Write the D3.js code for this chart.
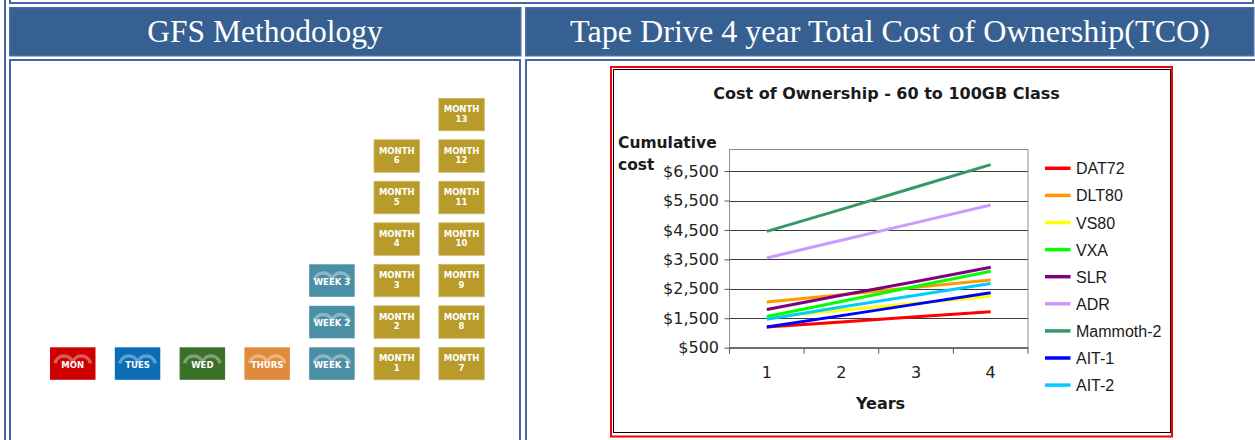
<!DOCTYPE html>
<html>

<head>
    <meta charset="utf-8">
    <script src="https://d3js.org/d3.v7.min.js"></script>
    <style>
        body {
            margin: 0;
            background: #ffffff;
            overflow: hidden;
        }

        .cell-border {
            fill: none;
            stroke: #4465a8;
            stroke-width: 2;
        }

        .header {
            fill: #366092;
            stroke: #4a6ba8;
            stroke-width: 1.5;
        }

        .header-text {
            font-family: "Liberation Serif", "Times New Roman", serif;
            font-size: 31.5px;
            fill: #ffffff;
            text-anchor: middle;
        }

        .tile-text {
            font-family: "DejaVu Sans", sans-serif;
            font-weight: bold;
            font-size: 8.5px;
            fill: #ffffff;
            text-anchor: middle;
        }

        .chart-text {
            font-family: "DejaVu Sans", sans-serif;
            fill: #1a1a1a;
        }

        .legend-text {
            font-family: "Liberation Sans", Arial, sans-serif;
            font-size: 16px;
            fill: #1a1a1a;
        }

        .axis text {
            font-family: "DejaVu Sans", sans-serif;
            font-size: 16px;
            fill: #222222;
        }

        .axis .domain {
            display: none;
        }

        .axis line {
            stroke: #555555;
        }
    </style>
</head>

<body>
    <div id="page"></div>
    <script>
        // ---- left panel: GFS rotation tiles ----
        var dayTiles = ["MON", "TUES", "WED", "THURS"];
        var weekTiles = ["WEEK 1", "WEEK 2", "WEEK 3"];
        var monthTiles = [1, 2, 3, 4, 5, 6, 7, 8, 9, 10, 11, 12, 13];
        var tileColumns = ["MON", "TUES", "WED", "THURS", "WEEK", "MONTH-A", "MONTH-B"];

        // ---- right panel: cost of ownership ----
        var years = [1, 2, 3, 4];
        var seriesNames = ["DAT72", "DLT80", "VS80", "VXA", "SLR", "ADR", "Mammoth-2", "AIT-1", "AIT-2"];
        var dat72 = [1200, 1370, 1550, 1720];
        var dlt80 = [2050, 2300, 2550, 2800];
        var vs80 = [1530, 1770, 2010, 2250];
        var vxa = [1560, 2070, 2590, 3100];
        var slr = [1800, 2280, 2750, 3230];
        var adr = [3550, 4150, 4750, 5350];
        var mammoth2 = [4450, 5200, 5960, 6720];
        var ait1 = [1200, 1590, 1980, 2370];
        var ait2 = [1470, 1880, 2280, 2680];
        var yTicks = [500, 1500, 2500, 3500, 4500, 5500, 6500];

        var seriesValues = [dat72, dlt80, vs80, vxa, slr, adr, mammoth2, ait1, ait2];
        var seriesColors = ["#ff0000", "#ff9900", "#ffff00", "#00ff00", "#800080", "#cc99ff", "#339966", "#0000ff", "#00ccff"];

        var svg = d3.select("#page")
            .append("svg")
            .attr("width", 1255)
            .attr("height", 440);

        // page table borders
        svg.append("line")
            .attr("x1", 5).attr("x2", 5)
            .attr("y1", 0).attr("y2", 440)
            .attr("stroke", "#4465a8")
            .attr("stroke-width", 2);

        svg.append("rect")
            .attr("class", "cell-border")
            .attr("x", 10).attr("y", -10)
            .attr("width", 1243).attr("height", 13);

        svg.append("rect").attr("class", "header")
            .attr("x", 9.75).attr("y", 7.75)
            .attr("width", 511).attr("height", 48);
        svg.append("rect").attr("class", "header")
            .attr("x", 525.75).attr("y", 7.75)
            .attr("width", 728).attr("height", 48);

        svg.append("text").attr("class", "header-text")
            .attr("x", 265).attr("y", 42)
            .text("GFS Methodology");
        svg.append("text").attr("class", "header-text")
            .attr("x", 890).attr("y", 42)
            .attr("textLength", 640)
            .attr("lengthAdjust", "spacingAndGlyphs")
            .text("Tape Drive 4 year Total Cost of Ownership(TCO)");

        svg.append("rect").attr("class", "cell-border")
            .attr("x", 10).attr("y", 60)
            .attr("width", 510).attr("height", 400);
        svg.append("rect").attr("class", "cell-border")
            .attr("x", 526).attr("y", 60)
            .attr("width", 1228).attr("height", 400);

        // ---- GFS tiles ----
        var tiles = [];
        dayTiles.forEach(function(d) {
            tiles.push({ col: d, row: 0, kind: d, lines: [d] });
        });
        weekTiles.forEach(function(d, i) {
            tiles.push({ col: "WEEK", row: i, kind: "WEEK", lines: [d] });
        });
        monthTiles.forEach(function(m) {
            tiles.push({
                col: m <= 6 ? "MONTH-A" : "MONTH-B",
                row: m <= 6 ? m - 1 : m - 7,
                kind: "MONTH",
                lines: ["MONTH", String(m)]
            });
        });

        var tileColor = {
            "MON": "#cc0000",
            "TUES": "#0b6db5",
            "WED": "#3b7029",
            "THURS": "#e08b3c",
            "WEEK": "#4b8fa5",
            "MONTH": "#b89b2b"
        };

        var col = d3.scaleBand()
            .domain(tileColumns)
            .range([50, 484.3])
            .paddingInner(0.298)
            .paddingOuter(0);

        var row = d3.scaleLinear()
            .domain([0, 6])
            .range([347.3, 98.3]);

        var tileH = 32.5;

        var tile = svg.append("g").selectAll("g")
            .data(tiles)
            .enter()
            .append("g")
            .attr("transform", function(d) {
                return "translate(" + col(d.col) + "," + row(d.row) + ")";
            });

        tile.append("rect")
            .attr("width", col.bandwidth())
            .attr("height", tileH)
            .attr("fill", function(d) { return tileColor[d.kind]; })
            .attr("stroke", function(d) {
                return d.kind === "MONTH" ? d3.interpolateRgb(tileColor[d.kind], "#fff")(0.3) : "none";
            })
            .attr("stroke-width", 0.8);

        // two arches on day / week tiles
        var arch = d3.arc()
            .innerRadius(7.5)
            .outerRadius(11)
            .startAngle(-Math.PI / 2.3)
            .endAngle(Math.PI / 2.3);

        tile.filter(function(d) { return d.kind !== "MONTH"; })
            .each(function(d) {
                var g = d3.select(this);
                var w = col.bandwidth();
                [w * 0.31, w * 0.69].forEach(function(cx) {
                    g.append("path")
                        .attr("d", arch())
                        .attr("transform", "translate(" + cx + ",18)")
                        .attr("fill", d3.interpolateRgb(tileColor[d.kind], "#fff")(0.35));
                });
            });

        tile.each(function(d) {
            var g = d3.select(this);
            if (d.lines.length === 1) {
                g.append("text").attr("class", "tile-text")
                    .attr("x", col.bandwidth() / 2)
                    .attr("y", 20.5)
                    .text(d.lines[0]);
            } else {
                g.append("text").attr("class", "tile-text")
                    .attr("x", col.bandwidth() / 2)
                    .attr("y", 14)
                    .text(d.lines[0]);
                g.append("text").attr("class", "tile-text")
                    .attr("x", col.bandwidth() / 2)
                    .attr("y", 23.5)
                    .text(d.lines[1]);
            }
        });

        // ---- cost chart ----
        svg.append("rect")
            .attr("x", 611).attr("y", 67)
            .attr("width", 561).attr("height", 369.5)
            .attr("fill", "#ffffff")
            .attr("stroke", "#ff0000")
            .attr("stroke-width", 2);
        svg.append("rect")
            .attr("x", 613.5).attr("y", 69.5)
            .attr("width", 557).attr("height", 363)
            .attr("fill", "none")
            .attr("stroke", "#000000")
            .attr("stroke-width", 1);

        svg.append("text").attr("class", "chart-text")
            .attr("x", 886.5).attr("y", 99)
            .attr("text-anchor", "middle")
            .attr("font-weight", "bold")
            .attr("font-size", 16)
            .text("Cost of Ownership - 60 to 100GB Class");

        svg.append("text").attr("class", "chart-text")
            .attr("x", 618).attr("y", 148)
            .attr("font-weight", "bold")
            .attr("font-size", 15.5)
            .text("Cumulative");
        svg.append("text").attr("class", "chart-text")
            .attr("x", 618).attr("y", 170)
            .attr("font-weight", "bold")
            .attr("font-size", 15.5)
            .text("cost");

        var x = d3.scaleBand()
            .domain(years)
            .range([729.5, 1028]);

        var y = d3.scaleLinear()
            .domain([500, 7250])
            .range([347.7, 149]);

        var plot = svg.append("g");

        plot.selectAll(".grid")
            .data(yTicks)
            .enter()
            .append("line")
            .attr("class", "grid")
            .attr("x1", x.range()[0])
            .attr("x2", x.range()[1])
            .attr("y1", function(d) { return Math.round(y(d)) + 0.5; })
            .attr("y2", function(d) { return Math.round(y(d)) + 0.5; })
            .attr("stroke", "#3c3c3c")
            .attr("stroke-width", 1);

        plot.append("rect")
            .attr("x", x.range()[0])
            .attr("y", y.range()[1] + 0.5)
            .attr("width", x.range()[1] - x.range()[0])
            .attr("height", y.range()[0] - y.range()[1])
            .attr("fill", "none")
            .attr("stroke", "#8c8c8c")
            .attr("stroke-width", 1);

        plot.append("g")
            .attr("class", "axis")
            .attr("transform", "translate(" + x.range()[0] + ",0)")
            .call(d3.axisLeft(y)
                .tickValues(yTicks)
                .tickSize(5)
                .tickPadding(5.5)
                .tickFormat(function(d) { return "$" + d3.format(",")(d); }));

        plot.append("g")
            .attr("class", "axis")
            .attr("transform", "translate(0," + y.range()[0] + ")")
            .call(d3.axisBottom(x).tickSize(0).tickPadding(19));

        // category boundary ticks
        plot.selectAll(".xtick")
            .data(years.concat(["end"]))
            .enter()
            .append("line")
            .attr("class", "xtick")
            .attr("x1", function(d) { return d === "end" ? x.range()[1] : x(d); })
            .attr("x2", function(d) { return d === "end" ? x.range()[1] : x(d); })
            .attr("y1", y.range()[0])
            .attr("y2", y.range()[0] + 6)
            .attr("stroke", "#555555");

        plot.append("line")
            .attr("x1", x.range()[0]).attr("x2", x.range()[1])
            .attr("y1", y.range()[0]).attr("y2", y.range()[0])
            .attr("stroke", "#555555");

        var line = d3.line()
            .x(function(d, i) { return x(years[i]) + x.bandwidth() / 2; })
            .y(function(d) { return y(d); });

        plot.selectAll(".series")
            .data(seriesValues)
            .enter()
            .append("path")
            .attr("class", "series")
            .attr("d", line)
            .attr("fill", "none")
            .attr("stroke", function(d, i) { return seriesColors[i]; })
            .attr("stroke-width", 3);

        svg.append("text").attr("class", "chart-text")
            .attr("x", 880.5).attr("y", 409)
            .attr("text-anchor", "middle")
            .attr("font-weight", "bold")
            .attr("font-size", 16)
            .text("Years");

        // legend
        var legend = svg.append("g").selectAll("g")
            .data(seriesNames)
            .enter()
            .append("g")
            .attr("transform", function(d, i) {
                return "translate(1045," + (168.3 + i * 27.1) + ")";
            });

        legend.append("line")
            .attr("x1", 0).attr("x2", 25.5)
            .attr("stroke", function(d, i) { return seriesColors[i]; })
            .attr("stroke-width", 3.5);

        legend.append("text").attr("class", "legend-text")
            .attr("x", 31)
            .attr("y", 6)
            .text(function(d) { return d; });
    </script>
</body>

</html>
